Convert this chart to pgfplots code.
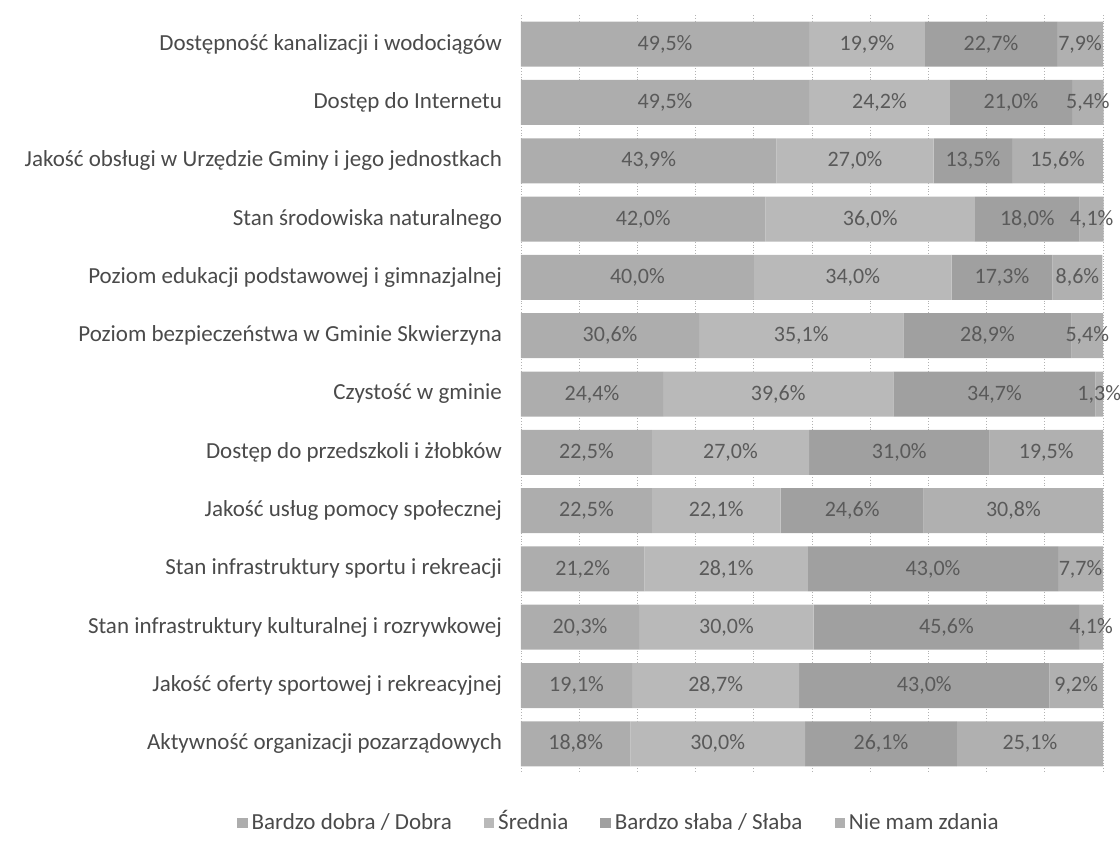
\documentclass[border=0pt]{standalone}
\usepackage{fontspec}
\setmainfont{Carlito}
\usepackage{pgfplots}
\usepackage{pgfplotstable}
\pgfplotsset{compat=1.18}
\definecolor{segA}{HTML}{ADADAD}
\definecolor{segB}{HTML}{B9B9B9}
\definecolor{segC}{HTML}{A0A0A0}
\definecolor{segD}{HTML}{B0B0B0}
\definecolor{txt}{HTML}{4A4A4A}
\definecolor{vtxt}{HTML}{5A5A5A}
\pgfplotstableread{
idx a b c d
0 49.5 19.9 22.7 7.9
1 49.5 24.2 21.0 5.4
2 43.9 27.0 13.5 15.6
3 42.0 36.0 18.0 4.1
4 40.0 34.0 17.3 8.6
5 30.6 35.1 28.9 5.4
6 24.4 39.6 34.7 1.3
7 22.5 27.0 31.0 19.5
8 22.5 22.1 24.6 30.8
9 21.2 28.1 43.0 7.7
10 20.3 30.0 45.6 4.1
11 19.1 28.7 43.0 9.2
12 18.8 30.0 26.1 25.1
}\data
\pgfplotsset{
  seg/.style={point meta=\thisrow{#1}},
}
\begin{document}
\begin{tikzpicture}
\useasboundingbox (0,0) rectangle (560pt,425.5pt);
\begin{axis}[
  at={(260.5pt,39pt)}, anchor=south west,
  scale only axis, width=291pt, height=379pt,
  xbar stacked, bar width=22.5pt,
  xmin=0, xmax=100, ymin=-0.5, ymax=12.5, y dir=reverse,
  clip=false,
  ytick={0,...,12},
  yticklabels={Dostępność kanalizacji i wodociągów,Dostęp do Internetu,Jakość obsługi w Urzędzie Gminy i jego jednostkach,Stan środowiska naturalnego,Poziom edukacji podstawowej i gimnazjalnej,Poziom bezpieczeństwa w Gminie Skwierzyna,Czystość w gminie,Dostęp do przedszkoli i żłobków,Jakość usług pomocy społecznej,Stan infrastruktury sportu i rekreacji,Stan infrastruktury kulturalnej i rozrywkowej,Jakość oferty sportowej i rekreacyjnej,Aktywność organizacji pozarządowych},
  xtick={0,10,...,100}, xticklabels={},
  xmajorgrids, major grid style={densely dotted, black!30},
  axis line style={draw=none},
  major tick length=0pt,
  yticklabel style={font=\fontsize{11.5}{13}\selectfont, text=txt, anchor=east, xshift=-6pt},
  nodes near coords={\pgfmathprintnumber[fixed,fixed zerofill,precision=1,use comma,assume math mode=true]{\pgfplotspointmeta}\%},
  every node near coord/.append style={font=\fontsize{11}{13}\selectfont, text=vtxt, anchor=center},
  legend columns=4,
  legend style={at={(0.17,-0.066)}, anchor=center, draw=none, fill=none,
    font=\fontsize{11.5}{13}\selectfont, text=txt,
    nodes={text height=1.7ex, text depth=0.4ex},
    /tikz/every even column/.append style={column sep=14pt}},
  legend image code/.code={\fill[#1] (0pt,-2.6pt) rectangle (5.2pt,2.6pt);},
]
\addplot[fill=segA, draw=none, seg=a] table[x=a, y=idx] {\data};
\addplot[fill=segB, draw=none, seg=b] table[x=b, y=idx] {\data};
\addplot[fill=segC, draw=none, seg=c] table[x=c, y=idx] {\data};
\addplot[fill=segD, draw=none, seg=d] table[x=d, y=idx] {\data};
\legend{Bardzo dobra / Dobra, Średnia, Bardzo słaba / Słaba, Nie mam zdania}
\end{axis}
\end{tikzpicture}
\end{document}
